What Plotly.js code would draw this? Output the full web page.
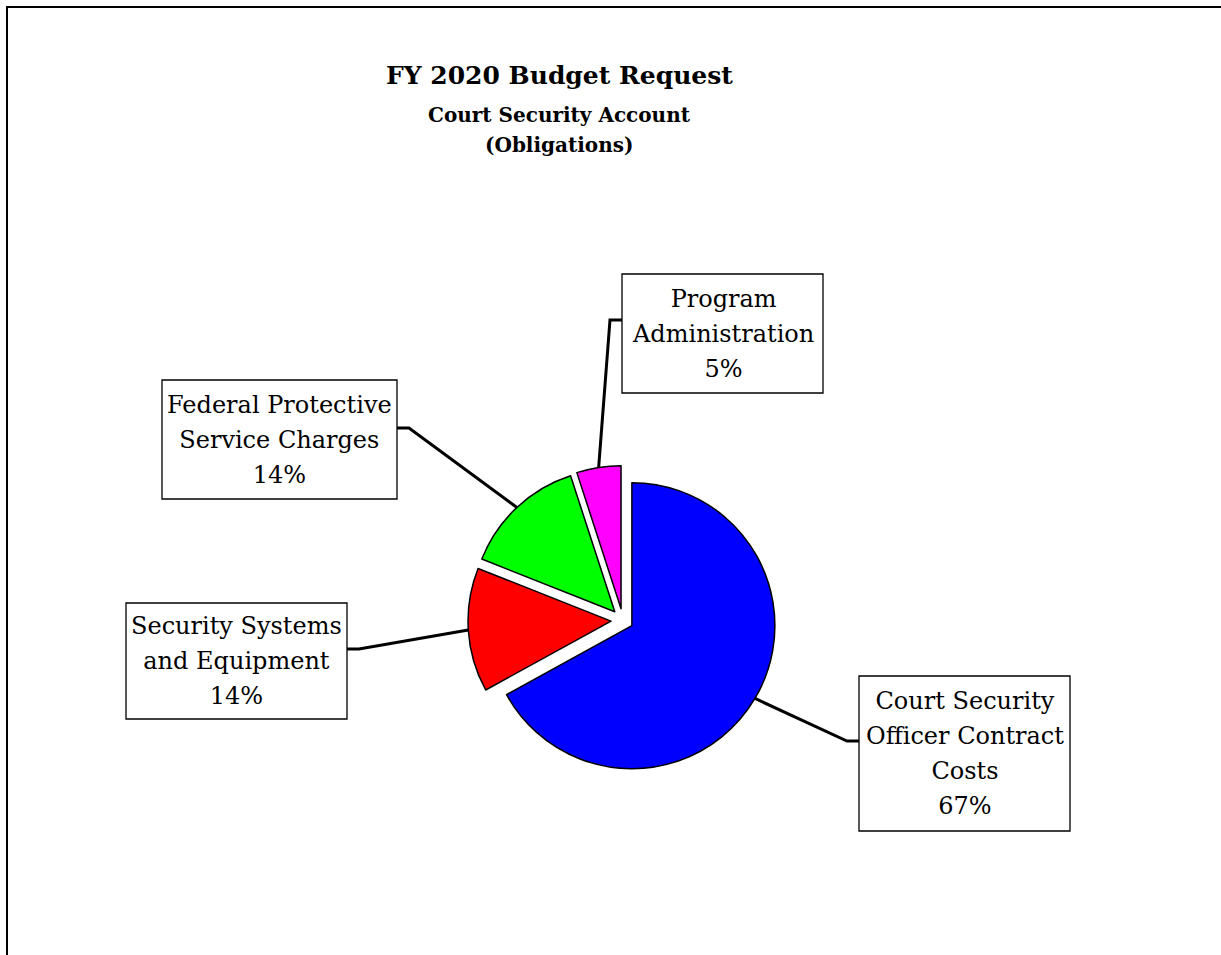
<!DOCTYPE html>
<html>
<head>
<meta charset="utf-8">
<script src="https://cdn.plot.ly/plotly-3.0.1.min.js"></script>
<style>html,body{margin:0;padding:0;background:#fff;}#chart{width:1221px;height:955px;}</style>
</head>
<body>
<div id="chart"></div>
<script>
// ---- data ----
const categories = ["Court Security Officer Contract Costs", "Security Systems and Equipment", "Federal Protective Service Charges", "Program Administration"];
const boxLabels = ["Court Security<br>Officer Contract<br>Costs", "Security Systems<br>and Equipment", "Federal Protective<br>Service Charges", "Program<br>Administration"];
const shares = [67, 14, 14, 5];
const sliceColors = ["#0000FF", "#FF0000", "#00FF00", "#FF00FF"];
const pulls = [0.073, 0.083, 0.083, 0.083];

// ---- layout geometry (pixels) ----
const W = 1221, H = 955;
const px = x => x / W;
const py = y => 1 - y / H;
const domX = [0.3833, 0.6370];
const domY = [0.1882, 0.5126];
// label boxes: [left, top, right, bottom], anchor side, anchor y
const boxes = [
  {b: [859, 676, 1070, 831], side: "left", ay: 741},
  {b: [126, 603, 347, 719], side: "right", ay: 649},
  {b: [162, 380, 397, 499], side: "right", ay: 428},
  {b: [622, 274, 823, 393], side: "left", ay: 320}
];

const FONT = "'DejaVu Serif', 'Liberation Serif', serif";

// pie geometry as plotly computes it
const maxPull = Math.max(...pulls);
const boxW = W * (domX[1] - domX[0]), boxH = H * (domY[1] - domY[0]);
const r = Math.min(boxW, boxH) / (2 + 2 * maxPull);
const cx = W * (domX[0] + domX[1]) / 2;
const cy = H * (1 - domY[1]) + boxH / 2;
const total = shares.reduce((a, b) => a + b, 0);

const shapes = [];
const annotations = [];

// outer frame
shapes.push({type: "path", xref: "paper", yref: "paper",
  path: `M ${px(7)} ${py(960)} L ${px(7)} ${py(7)} L ${px(1230)} ${py(7)}`,
  line: {color: "#000", width: 2}});

let cum = 0;
shares.forEach((v, i) => {
  const mid = (cum + v / 2) / total * 2 * Math.PI;
  cum += v;
  const ux = Math.sin(mid), uy = -Math.cos(mid);
  const d = r * (1 + pulls[i]);
  const sx = cx + ux * d, sy = cy + uy * d;
  const bx = boxes[i];
  const edgeX = bx.side === "left" ? bx.b[0] : bx.b[2];
  const elbowX = bx.side === "left" ? edgeX - 12 : edgeX + 12;
  shapes.push({type: "path", xref: "paper", yref: "paper",
    path: `M ${px(sx)} ${py(sy)} L ${px(elbowX)} ${py(bx.ay)} L ${px(edgeX)} ${py(bx.ay)}`,
    line: {color: "#000", width: 3}});
  shapes.push({type: "rect", xref: "paper", yref: "paper",
    x0: px(bx.b[0]), x1: px(bx.b[2]), y0: py(bx.b[3]), y1: py(bx.b[1]),
    line: {color: "#000", width: 1.3}, fillcolor: "#fff"});
  const pct = Math.round(v / total * 100) + "%";
  annotations.push({xref: "paper", yref: "paper",
    x: px((bx.b[0] + bx.b[2]) / 2), y: py((bx.b[1] + bx.b[3]) / 2),
    xanchor: "center", yanchor: "middle", showarrow: false, align: "center",
    text: `<span style="font-size:24px">${boxLabels[i]}<br>${pct}</span>`,
    font: {family: FONT, size: 27, color: "#000"}});
});

// titles
annotations.push({xref: "paper", yref: "paper", x: px(559), y: py(75), xanchor: "center", yanchor: "middle",
  showarrow: false, text: "<b>FY 2020 Budget Request</b>", font: {family: FONT, size: 25, color: "#000"}});
annotations.push({xref: "paper", yref: "paper", x: px(559), y: py(115), xanchor: "center", yanchor: "middle",
  showarrow: false, text: "<b>Court Security Account</b>", font: {family: FONT, size: 20, color: "#000"}});
annotations.push({xref: "paper", yref: "paper", x: px(559), y: py(145), xanchor: "center", yanchor: "middle",
  showarrow: false, text: "<b>(Obligations)</b>", font: {family: FONT, size: 20, color: "#000"}});

const trace = {
  type: "pie",
  labels: categories,
  values: shares,
  sort: false,
  direction: "clockwise",
  rotation: 0,
  pull: pulls,
  marker: {colors: sliceColors, line: {color: "#000", width: 1.5}},
  textinfo: "none",
  hoverinfo: "label+percent",
  showlegend: false,
  domain: {x: domX, y: domY}
};

const layout = {
  width: W, height: H,
  margin: {l: 0, r: 0, t: 0, b: 0},
  paper_bgcolor: "#fff",
  showlegend: false,
  shapes: shapes,
  annotations: annotations
};

Plotly.newPlot("chart", [trace], layout, {displayModeBar: false, staticPlot: true});
</script>
</body>
</html>
